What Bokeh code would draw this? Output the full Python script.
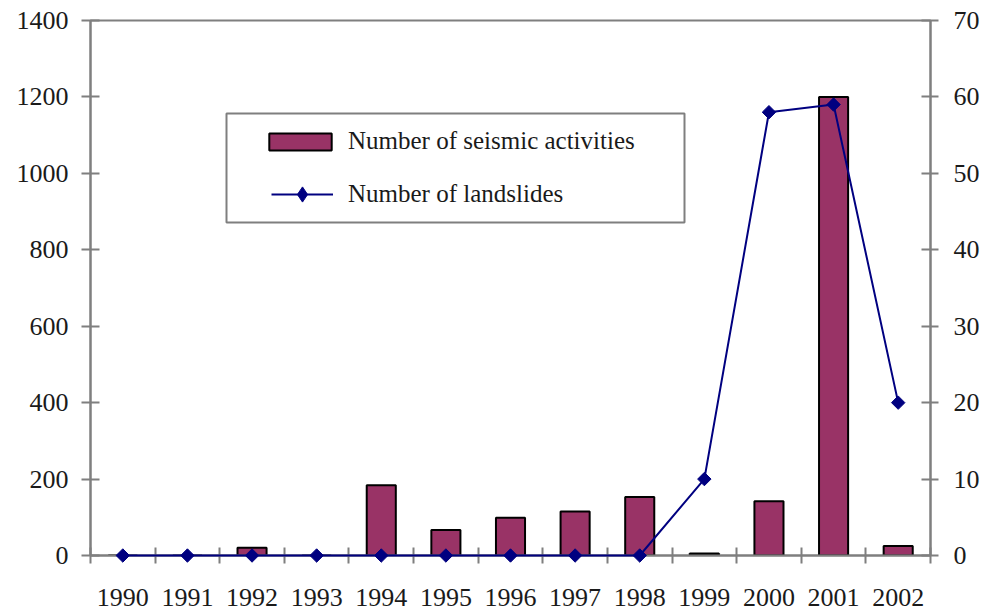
import math
from bokeh.plotting import figure
from bokeh.models import (Range1d, LinearAxis, FixedTicker, SingleIntervalTicker,
                          Legend, LegendItem, BoxAnnotation)
from bokeh.embed import file_html
from bokeh.resources import INLINE

# ---- data ----
years = [1990, 1991, 1992, 1993, 1994, 1995, 1996, 1997, 1998, 1999, 2000, 2001, 2002]
seismic = [0, 0, 20, 0, 184, 67, 99, 115, 153, 5, 142, 1200, 25]
landslides = [0, 0, 0, 0, 0, 0, 0, 0, 0, 10, 58, 59, 20]
left_max, left_step = 1400, 200
right_max, right_step = 70, 10
series_names = ["Number of seismic activities", "Number of landslides"]

FONT = "'Liberation Serif', 'Times New Roman', serif"
AXIS_COLOR = "#7f7f7f"
TEXT_COLOR = "#1a1a1a"
BAR_COLOR = "#993366"
LINE_COLOR = "#000080"

p = figure(width=984, height=615, output_backend="svg", toolbar_location=None,
           x_range=Range1d(years[0] - 0.5, years[-1] + 0.5),
           y_range=Range1d(0, left_max),
           min_border_left=90, min_border_right=54, min_border_top=20, min_border_bottom=60,
           background_fill_color="white", border_fill_color="white")
p.extra_y_ranges = {"right": Range1d(0, right_max)}
p.xgrid.visible = False
p.ygrid.visible = False
p.outline_line_color = AXIS_COLOR
p.outline_line_width = 2

bars = p.vbar(x=years, top=seismic, width=0.45, fill_color=BAR_COLOR,
              line_color="black", line_width=2)
line = p.line(x=years, y=landslides, y_range_name="right", line_color=LINE_COLOR,
              line_width=2, level="overlay")
pts = p.scatter(x=years, y=landslides, y_range_name="right", marker="square",
                angle=math.pi / 4, size=9.5, fill_color=LINE_COLOR,
                line_color=LINE_COLOR, level="overlay")
# renderer used only for the legend swatch (diamond)
legend_pts = p.scatter(x=years, y=landslides, y_range_name="right", marker="diamond",
                       size=14, fill_color=LINE_COLOR, line_color=LINE_COLOR,
                       visible=False)

# x axis: labels at centres, ticks between categories
xa = p.xaxis[0]
xa.ticker = FixedTicker(ticks=years,
                        minor_ticks=[y - 0.5 for y in years] + [years[-1] + 0.5])
xa.major_label_overrides = {y: str(y) for y in years}
xa.major_tick_in = 0
xa.major_tick_out = 0
xa.minor_tick_in = 8
xa.minor_tick_out = 8
xa.minor_tick_line_color = AXIS_COLOR
xa.minor_tick_line_width = 2
xa.axis_line_color = AXIS_COLOR
xa.axis_line_width = 2
xa.major_label_standoff = 25
xa.major_label_text_font = FONT
xa.major_label_text_font_size = "26px"
xa.major_label_text_color = TEXT_COLOR

ya = p.yaxis[0]
ya.ticker = SingleIntervalTicker(interval=left_step)
ya.minor_tick_line_color = None
ya.major_tick_in = 9
ya.major_tick_out = 9
ya.major_tick_line_color = AXIS_COLOR
ya.major_tick_line_width = 2
ya.axis_line_color = AXIS_COLOR
ya.axis_line_width = 2
ya.major_label_standoff = 13
ya.major_label_text_font = FONT
ya.major_label_text_font_size = "26px"
ya.major_label_text_color = TEXT_COLOR

ra = LinearAxis(y_range_name="right", ticker=SingleIntervalTicker(interval=right_step))
ra.minor_tick_line_color = None
ra.major_tick_in = 9
ra.major_tick_out = 8
ra.major_tick_line_color = AXIS_COLOR
ra.major_tick_line_width = 2
ra.axis_line_color = AXIS_COLOR
ra.axis_line_width = 2
ra.major_label_standoff = 15
ra.major_label_text_font = FONT
ra.major_label_text_font_size = "26px"
ra.major_label_text_color = TEXT_COLOR
p.add_layout(ra, "right")

# legend frame
box = BoxAnnotation(left=136, right=594, bottom=333, top=442,
                    left_units="screen", right_units="screen",
                    top_units="screen", bottom_units="screen",
                    fill_color="white", fill_alpha=1.0,
                    line_color=AXIS_COLOR, line_width=2, line_alpha=1.0)
p.add_layout(box)

common = dict(orientation="vertical", padding=0, margin=0, label_height=28,
              border_line_color=None, background_fill_alpha=0,
              label_text_font=FONT, label_text_font_size="25px",
              label_text_color=TEXT_COLOR)
legend1 = Legend(items=[LegendItem(label=series_names[0], renderers=[bars])],
                 location=(171, 400), glyph_width=78, glyph_height=21,
                 label_standoff=9, **common)
legend2 = Legend(items=[LegendItem(label=series_names[1], renderers=[line, legend_pts])],
                 location=(181, 342), glyph_width=62, glyph_height=38,
                 label_standoff=15, **common)
p.add_layout(legend1, "center")
p.add_layout(legend2, "center")

open("out.html", "w").write(file_html(p, INLINE))
